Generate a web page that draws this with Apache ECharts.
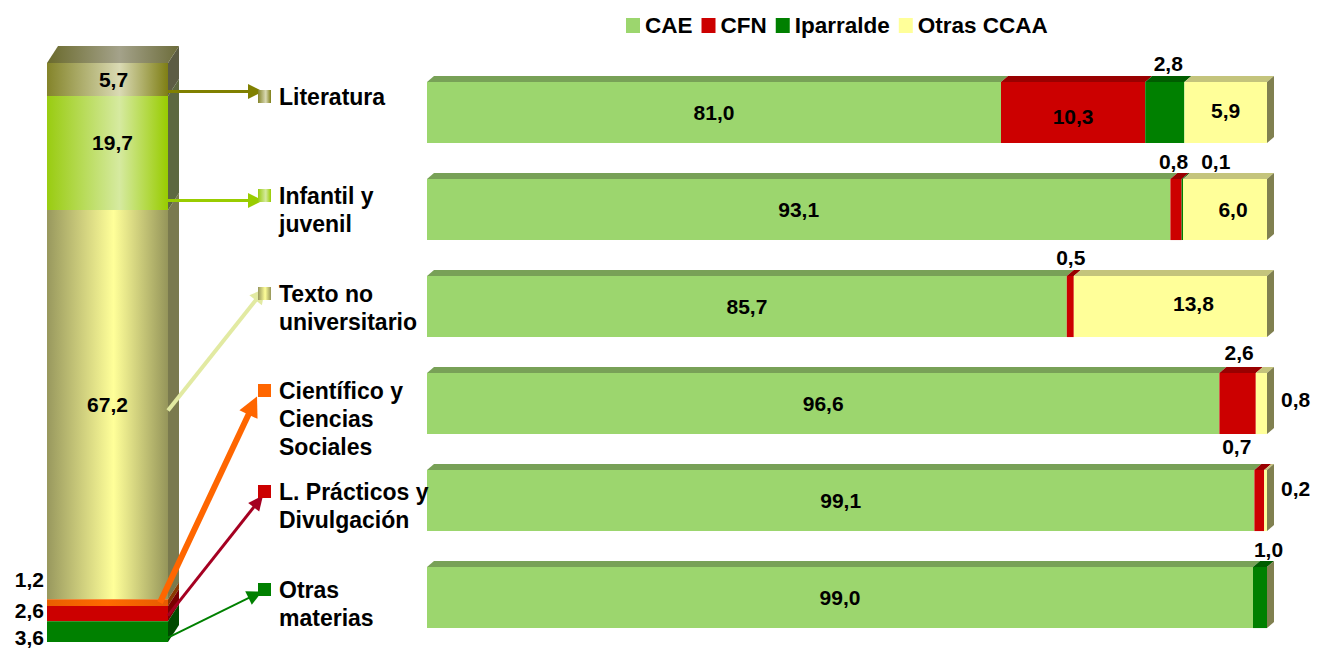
<!DOCTYPE html>
<html>
<head>
<meta charset="utf-8">
<script src="https://cdn.jsdelivr.net/npm/echarts@6/dist/echarts.min.js"></script>
<style>
  html, body { margin: 0; padding: 0; background: #fff; }
  #grafo { width: 1319px; height: 648px; }
</style>
</head>
<body>
<div id="grafo"></div>
<script>
// materias, de arriba abajo
const categorias = ['Literatura', 'Infantil y\njuvenil', 'Texto no\nuniversitario',
  'Científico y\nCiencias\nSociales', 'L. Prácticos y\nDivulgación', 'Otras\nmaterias'];
// peso de cada materia en el total (columna de la izquierda)
const pesoMateria = [5.7, 19.7, 67.2, 1.2, 2.6, 3.6];

// reparto por territorio (%)
const regiones = ['CAE', 'CFN', 'Iparralde', 'Otras CCAA'];
const cae = [81.0, 93.1, 85.7, 96.6, 99.1, 99.0];
const cfn = [10.3, 0.8, 0.5, 2.6, 0.7, 0];
const iparralde = [2.8, 0.1, 0, 0, 0, 1.0];
const otrasCcaa = [5.9, 6.0, 13.8, 0.8, 0.2, 0];

const FUENTE = '"Liberation Sans", Arial, sans-serif';
const fmt = v => v.toFixed(1).replace('.', ',');

function grad(colors, stops) {
  return {
    type: 'linear', x: 0, y: 0, x2: 1, y2: 0, global: false,
    colorStops: colors.map((c, k) => ({ offset: stops[k], color: c }))
  };
}

// --- estilos columna izquierda ---
const colFrente = [
  grad(['#84842a', '#dadab4', '#7e7e14'], [0, 0.6, 1]),
  grad(['#99cc11', '#d6eaa0', '#98cc00'], [0, 0.6, 1]),
  grad(['#98985e', '#ffff99', '#95955a'], [0, 0.55, 1]),
  grad(['#e85e00', '#ff6a00', '#e65c00'], [0, 0.5, 1]),
  '#cc0000',
  '#008000'
];
const colLado = ['#5c5c44', '#5d6840', '#7a7a4e', '#8a3a00', '#7a0000', '#004a00'];
const colTapa = grad(['#6a6a2c', '#a4a28a', '#6c6c3a'], [0, 0.55, 1]);
// posicion de las etiquetas de la columna: [modo, dx, dy]
const etqCol = [['in', 6, 0], ['in', 5, -11], ['in', 0, 0], ['left', 0, -23], ['left', 0, -3], ['left', 0, 6]];
const CDX = 11, CDY = 17;

// --- estilos barras ---
const frente = ['#9cd66e', '#cc0000', '#008000', '#ffff99'];
const tapa = ['#78a157', '#990000', '#005c00', '#c4c47c'];
const ladoFinal = '#808050';
const DX = 7, DY = 6;
// posicion de etiquetas [fila][region]: [modo, dx, dy]
const etqBarra = [
  [['in', 0, 0], ['in', 0, 4], ['top', 0, 0], ['in', 0, -2]],
  [['in', 0, 0], ['top', -6, 1], ['top', 30, 1], ['in', 8, 0]],
  [['in', 0, 0], ['top', -3, 0], null, ['in', 23, -3]],
  [['in', 0, 0], ['top', -2, -2], null, ['right', 0, -4]],
  [['in', 0, 0], ['top', -26, -5], null, ['right', 0, -12]],
  [['in', 0, 0], null, ['top', 5, 1], null]
];

const valores = [cae, cfn, iparralde, otrasCcaa];

function textoEl(txt, x, y, align) {
  return {
    type: 'text', z2: 100,
    style: { text: txt, x: x, y: y, align: align || 'center', verticalAlign: 'middle',
      fill: '#000', font: 'bold 21px ' + FUENTE }
  };
}

// datos columna: [0, inicio, fin, indice]
const datosCol = pesoMateria.map((v, i) => {
  let ini = 0;
  for (let j = i + 1; j < pesoMateria.length; j++) ini += pesoMateria[j];
  return [0, ini, ini + v, i];
});

function dibujaColumna(params, api) {
  const i = api.value(3);
  const a = api.coord([0, api.value(1)]);
  const b = api.coord([0, api.value(2)]);
  const w = api.size([1, 0])[0];
  const xl = a[0] - w / 2, xr = a[0] + w / 2;
  const yb = a[1], yt = b[1];
  const ch = [
    { type: 'rect', shape: { x: xl, y: yt, width: w, height: yb - yt }, style: { fill: colFrente[i] } },
    { type: 'polygon', shape: { points: [[xr, yt], [xr + CDX, yt - CDY], [xr + CDX, yb - CDY], [xr, yb]] },
      style: { fill: colLado[i] } }
  ];
  if (i === 0) {
    ch.push({ type: 'polygon', shape: { points: [[xl, yt], [xl + CDX, yt - CDY], [xr + CDX, yt - CDY], [xr, yt]] },
      style: { fill: colTapa } });
  }
  const e = etqCol[i];
  const ym = (yt + yb) / 2 + e[2];
  if (e[0] === 'in') ch.push(textoEl(fmt(pesoMateria[i]), a[0] + e[1], ym));
  else ch.push(textoEl(fmt(pesoMateria[i]), xl - 3 + e[1], ym, 'right'));
  return { type: 'group', children: ch };
}

function datosRegion(r) {
  return categorias.map((c, i) => {
    let ini = 0;
    for (let k = 0; k < r; k++) ini += valores[k][i];
    return [i, ini, ini + valores[r][i], valores[r][i]];
  });
}

function dibujaBarra(r) {
  return function (params, api) {
    const i = api.value(0);
    const ini = api.value(1), fin = api.value(2), v = api.value(3);
    const a = api.coord([Math.max(ini, 40), i]);
    const b = api.coord([fin, i]);
    const h = api.size([0, 1])[1] * 0.63;
    const top = a[1] - h / 2, bot = a[1] + h / 2;
    const x0 = a[0], x1 = b[0];
    const ch = [];
    if (v > 0) {
      ch.push({ type: 'rect', shape: { x: x0, y: top, width: x1 - x0, height: h }, style: { fill: frente[r] } });
      ch.push({ type: 'polygon', shape: { points: [[x0, top], [x0 + DX, top - DY], [x1 + DX, top - DY], [x1, top]] },
        style: { fill: tapa[r] } });
    }
    if (r === regiones.length - 1) {
      ch.push({ type: 'polygon', shape: { points: [[x1, top], [x1 + DX, top - DY], [x1 + DX, bot - DY], [x1, bot]] },
        style: { fill: ladoFinal } });
    }
    const e = etqBarra[i][r];
    if (e && v > 0) {
      if (e[0] === 'in') ch.push(textoEl(fmt(v), (x0 + x1) / 2 + e[1], a[1] + e[2]));
      else if (e[0] === 'top') ch.push(textoEl(fmt(v), (x0 + x1) / 2 + DX / 2 + e[1], top - DY - 12 + e[2]));
      else ch.push(textoEl(fmt(v), x1 + 14 + e[1], a[1] + e[2], 'left'));
    }
    return { type: 'group', children: ch };
  };
}

const chart = echarts.init(document.getElementById('grafo'), null, { renderer: 'svg' });

const option = {
  animation: false,
  backgroundColor: '#fff',
  legend: {
    data: regiones,
    left: 621, top: 9,
    icon: 'rect', itemWidth: 14, itemHeight: 15, itemGap: 9,
    textStyle: { fontFamily: FUENTE, fontWeight: 'bold', fontSize: 22.5, color: '#000' },
    selectedMode: false
  },
  grid: [
    { left: 47, top: 63, width: 121, height: 579 },
    { left: 427, top: 64, width: 840, height: 582 }
  ],
  xAxis: [
    { gridIndex: 0, type: 'category', data: ['total'], show: false },
    { gridIndex: 1, type: 'value', min: 40, max: 100, show: false }
  ],
  yAxis: [
    { gridIndex: 0, type: 'value', min: 0, max: 100, show: false },
    { gridIndex: 1, type: 'category', data: categorias, inverse: true, show: false }
  ],
  series: [
    {
      type: 'custom', name: 'materias', xAxisIndex: 0, yAxisIndex: 0,
      renderItem: dibujaColumna, data: datosCol, encode: { x: 0, y: [1, 2] }, silent: true
    }
  ].concat(regiones.map((nom, r) => ({
    type: 'custom', name: nom, xAxisIndex: 1, yAxisIndex: 1,
    itemStyle: { color: frente[r] },
    renderItem: dibujaBarra(r), data: datosRegion(r), encode: { x: [1, 2], y: 0 }, silent: true
  })))
};

chart.setOption(option);

// --- flechas, marcadores y nombres de materia ---
const marcaColor = [colFrente[0], colFrente[1], colFrente[2], '#ff6600', '#cc0000', '#008000'];
const etqDy = [-16, -14, -13, -13, -9, -8];
const flechas = [
  { color: '#808000', w: 3, L: 15, H: 7.5, sdy: 'h', dy: -5, tx: 263 },
  { color: '#99cc00', w: 3, L: 15, H: 7.5, sdy: 'h', dy: 5, tx: 263 },
  { color: '#e2eaa2', w: 4, L: 15, H: 8, sdy: 6, dy: -5, tx: 265 },
  { color: '#ff6600', w: 6, L: 20, H: 10, sdy: 0, dy: 6, tx: 257, sx: -8 },
  { color: '#a50021', w: 3, L: 15, H: 7, sdy: 2, dy: 4, tx: 263 },
  { color: '#008000', w: 2, L: 15, H: 7.5, sdy: 6, dy: 2, tx: 262 }
];

const colCentro = chart.convertToPixel({ xAxisIndex: 0 }, 0);
const colDer = colCentro + 121 / 2;
const barIzq = chart.convertToPixel({ xAxisIndex: 1 }, 40);
const graficos = [];

categorias.forEach((c, i) => {
  const yFila = chart.convertToPixel({ yAxisIndex: 1 }, i);
  const yEt = yFila + etqDy[i];
  const mx = barIzq - 169;

  const f = flechas[i];
  const tipX = f.tx, tipY = yEt + f.dy;
  let sx = colDer + (f.sx || 0), sy;
  if (f.sdy === 'h') sy = tipY;
  else sy = chart.convertToPixel({ yAxisIndex: 0 }, datosCol[i][1] + pesoMateria[i] / 2) + f.sdy;
  const dx = tipX - sx, dy = tipY - sy, len = Math.sqrt(dx * dx + dy * dy);
  const ux = dx / len, uy = dy / len;
  const bx = tipX - ux * f.L, by = tipY - uy * f.L;
  graficos.push({
    type: 'line', shape: { x1: sx, y1: sy, x2: bx + ux * 2, y2: by + uy * 2 },
    style: { stroke: f.color, lineWidth: f.w }, z: 5
  });
  graficos.push({
    type: 'polygon',
    shape: { points: [[tipX, tipY], [bx - uy * f.H, by + ux * f.H], [bx + uy * f.H, by - ux * f.H]] },
    style: { fill: f.color }, z: 5
  });

  graficos.push({
    type: 'rect', shape: { x: mx, y: yEt - 6.5, width: 13, height: 13 },
    style: { fill: marcaColor[i] }, z: 6
  });
  graficos.push({
    type: 'text', z: 6,
    style: {
      text: c, x: barIzq - 148, y: yEt - 14, lineHeight: 28, verticalAlign: 'top', align: 'left',
      fill: '#000', font: 'bold 23px ' + FUENTE
    }
  });
});

chart.setOption({ graphic: { elements: graficos } });
</script>
</body>
</html>
